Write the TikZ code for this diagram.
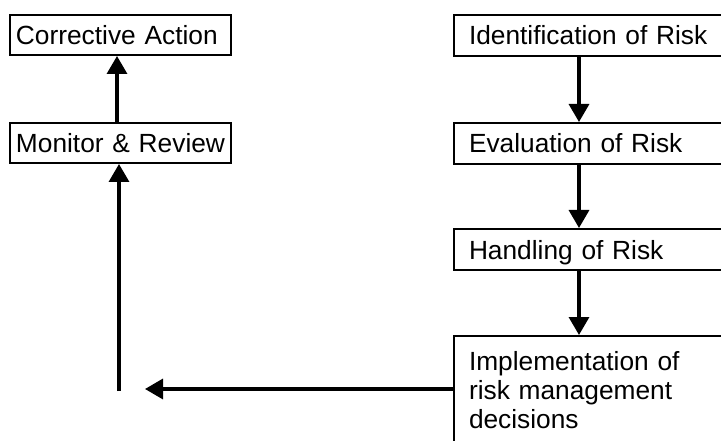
\documentclass[tikz,border=0pt]{standalone}
\usepackage{fontspec}
\setmainfont{Liberation Sans}
\usetikzlibrary{arrows.meta}
\begin{document}
\begin{tikzpicture}[x=1pt,y=-1pt,
  boxbase/.style={draw, line width=2pt, rectangle, anchor=north west, inner ysep=0pt,
    align=left, font=\fontsize{26.3}{29}\selectfont},
  lbox/.style={boxbase, inner xsep=6pt, text width=209pt, minimum height=40pt, text height=19pt, text depth=0pt},
  rbox/.style={boxbase, inner xsep=15pt, text width=400pt, minimum height=41pt, text height=19pt, text depth=0pt},
  tallbox/.style={boxbase, inner xsep=15pt, text width=400pt, inner ysep=15pt, text height=19.2pt, text depth=80pt},
  arr/.style={line width=3.3pt, -{Triangle[width=20pt,length=18pt]}}]
\useasboundingbox (0,0) rectangle (721,441);
\clip (0,0) rectangle (721,441);
\node[lbox] (ca) at (9,14) {\mbox{Corrective Action}};
\node[lbox] (mr) at (9,122) {\mbox{Monitor \& Review}};
\node[rbox] (id) at (453,14) {Identification of Risk};
\node[rbox] (ev) at (453,122) {Evaluation of Risk};
\node[rbox] (ha) at (453,228) {Handling of Risk};
\node[tallbox] (im) at (453,335) {Implementation of\\risk management\\decisions};
\coordinate (fb) at (145,389);
\coordinate (fs) at (119,391);
\draw[arr] ([xshift=-3.5pt]mr.north) -- ([xshift=-3.5pt]ca.south);
\draw[arr] ([xshift=126pt]id.south west) -- ([xshift=126pt]ev.north west);
\draw[arr] ([xshift=126pt]ev.south west) -- ([xshift=126pt]ha.north west);
\draw[arr] ([xshift=126pt]ha.south west) -- ([xshift=126pt]im.north west);
\draw[arr] (im.north west |- fb) -- (fb);
\draw[arr] (fs) -- (fs |- mr.south);
\end{tikzpicture}
\end{document}
